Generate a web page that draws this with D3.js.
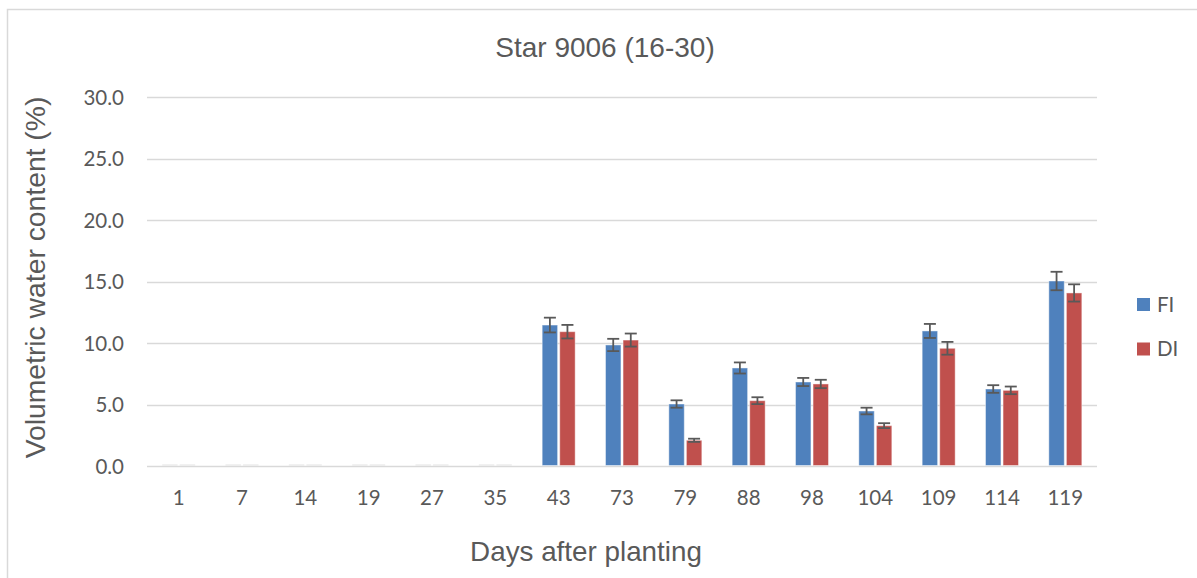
<!DOCTYPE html>
<html><head><meta charset="utf-8">
<script src="https://cdn.jsdelivr.net/npm/d3@7"></script>
<style>body{margin:0;background:#fff}svg{display:block}</style>
</head><body>
<svg id="c" width="1197" height="578"></svg>
<script>
const days = ["1","7","14","19","27","35","43","73","79","88","98","104","109","114","119"];
const series = ["FI","DI"];
const fiValues = [0,0,0,0,0,0,11.46,9.84,5.04,7.97,6.83,4.47,10.98,6.26,15.04];
const diValues = [0,0,0,0,0,0,10.92,10.24,2.09,5.31,6.67,3.28,9.57,6.15,14.07];
const fiErr = [0,0,0,0,0,0,0.6,0.5,0.3,0.45,0.33,0.27,0.57,0.31,0.75];
const diErr = [0,0,0,0,0,0,0.55,0.53,0.13,0.28,0.34,0.2,0.52,0.31,0.7];
const yTicks = [0,5,10,15,20,25,30];
const colors = {FI:"#4F81BD", DI:"#C0504D"};

const tickFont = "Lato, 'Open Sans', sans-serif";
const titleFont = "'Liberation Sans', Arial, sans-serif";
const textColor = "#595959";

const svg = d3.select("#c");
svg.append("rect").attr("x",7.5).attr("y",9.5).attr("width",1300).attr("height",700)
  .attr("fill","#fff").attr("stroke","#d9d9d9").attr("stroke-width",1.5);

const x = d3.scaleBand().domain(days).range([147,1097]).padding(0);
const y = d3.scaleLinear().domain([0,30]).range([466,97]);

// gridlines
svg.append("g").selectAll("line").data(yTicks).join("line")
  .attr("x1",147).attr("x2",1097).attr("y1",d=>Math.round(y(d))+0.5).attr("y2",d=>Math.round(y(d))+0.5)
  .attr("stroke","#d9d9d9").attr("stroke-width",1.3);

// y tick labels
svg.append("g").selectAll("text").data(yTicks).join("text")
  .attr("x",124).attr("y",d=>y(d)+7.5).attr("text-anchor","end")
  .attr("font-family",tickFont).attr("font-size",20.5).attr("fill",textColor)
  .text(d=>d3.format(".1f")(d));

// x tick labels
svg.append("g").selectAll("text").data(days).join("text")
  .attr("x",d=>x(d)+x.bandwidth()/2).attr("y",505).attr("text-anchor","middle")
  .attr("font-family",tickFont).attr("font-size",20.5).attr("fill",textColor)
  .text(d=>d);

const data = [];
days.forEach((d,i)=>{
  data.push({day:d, s:"FI", v:fiValues[i], e:fiErr[i]});
  data.push({day:d, s:"DI", v:diValues[i], e:diErr[i]});
});
const sub = d3.scaleBand().domain(series).range([-16.5,16.5]).paddingInner(0.12);
const cx = d => x(d.day)+x.bandwidth()/2 + sub(d.s);

svg.append("g").selectAll("rect").data(data).join("rect")
  .attr("x",d=>cx(d)).attr("width",sub.bandwidth())
  .attr("y",d=>d.v===0 ? y(0)-1.5 : y(d.v))
  .attr("height",d=>d.v===0 ? 1 : Math.max(0,y(0)-y(d.v)-0.5))
  .attr("fill",d=>d.v===0 ? "#e4e4e4" : colors[d.s])
  .attr("stroke",d=>d.v===0?"none":"rgba(255,255,255,0.45)").attr("stroke-width",1);

// error bars
const eg = svg.append("g").attr("stroke","#595959").attr("stroke-width",1.8);
const withErr = data.filter(d=>d.e>0);
const mid = d => cx(d)+sub.bandwidth()/2;
eg.selectAll("line.v").data(withErr).join("line").attr("class","v")
  .attr("x1",mid).attr("x2",mid)
  .attr("y1",d=>y(d.v+d.e)).attr("y2",d=>y(d.v-d.e));
eg.selectAll("line.t").data(withErr).join("line").attr("class","t")
  .attr("x1",d=>mid(d)-6).attr("x2",d=>mid(d)+6)
  .attr("y1",d=>y(d.v+d.e)).attr("y2",d=>y(d.v+d.e));
eg.selectAll("line.b").data(withErr).join("line").attr("class","b")
  .attr("x1",d=>mid(d)-6).attr("x2",d=>mid(d)+6)
  .attr("y1",d=>y(d.v-d.e)).attr("y2",d=>y(d.v-d.e));

// title
svg.append("text").attr("x",605).attr("y",57).attr("text-anchor","middle")
  .attr("font-family",titleFont).attr("font-size",28).attr("fill",textColor)
  .text("Star 9006 (16-30)");
// axis titles
svg.append("text").attr("x",586).attr("y",561).attr("text-anchor","middle")
  .attr("font-family",titleFont).attr("font-size",27.8).attr("fill",textColor)
  .text("Days after planting");
svg.append("text").attr("transform","translate(45,277.5) rotate(-90)").attr("text-anchor","middle")
  .attr("font-family",titleFont).attr("font-size",28.3).attr("fill",textColor)
  .text("Volumetric water content (%)");

// legend
const lg = svg.append("g").selectAll("g").data(series).join("g")
  .attr("transform",(d,i)=>`translate(1137,${298+i*44.5})`);
lg.append("rect").attr("width",13).attr("height",13).attr("fill",d=>colors[d]);
lg.append("text").attr("x",20).attr("y",13.5).attr("font-family",tickFont)
  .attr("font-size",20.5).attr("fill",textColor).text(d=>d);
</script>
</body></html>
